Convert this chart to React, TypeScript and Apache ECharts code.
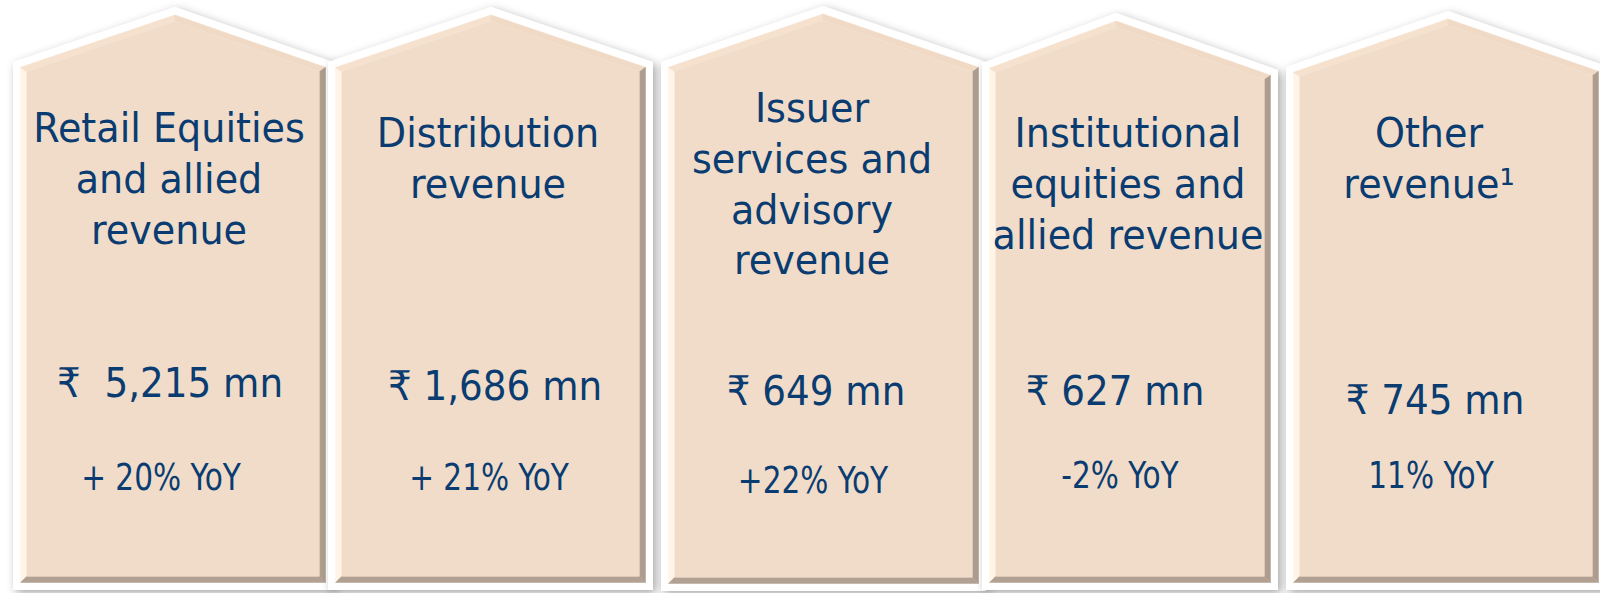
import React, { useEffect, useRef } from 'react';
import * as echarts from 'echarts';

// ---- data ----
const titleLines: string[][] = [
  ['Retail Equities', 'and allied', 'revenue'],
  ['Distribution', 'revenue'],
  ['Issuer', 'services and', 'advisory', 'revenue'],
  ['Institutional', 'equities and', 'allied revenue'],
  ['Other', 'revenue¹'],
];
const revenueLabels = ['₹  5,215 mn', '₹ 1,686 mn', '₹ 649 mn', '₹ 627 mn', '₹ 745 mn'];
const yoyLabels = ['+ 20% YoY', '+ 21% YoY', '+22% YoY', '-2% YoY', '11% YoY'];

// ---- layout (positions only) ----
const panelShapes = [
  { l: 13, r: 333, sl: 62, sr: 62, px: 175, pt: 7, b: 590 },
  { l: 328, r: 653, sl: 62, sr: 62, px: 491, pt: 7, b: 590 },
  { l: 661, r: 986, sl: 62, sr: 62, px: 823, pt: 6, b: 591 },
  { l: 982, r: 1278, sl: 63, sr: 70, px: 1116, pt: 13, b: 590 },
  { l: 1286, r: 1606, sl: 67, sr: 66, px: 1448, pt: 11, b: 590 },
];
const textLayout = [
  { tx: 169, ty: [128, 179, 230], vx: 170, vy: 383, yx: 161, yy: 477 },
  { tx: 488, ty: [133, 184], vx: 495, vy: 386, yx: 489, yy: 477 },
  { tx: 812, ty: [108, 159, 210, 260], vx: 816, vy: 391, yx: 813, yy: 480 },
  { tx: 1128, ty: [133, 184, 235], vx: 1115, vy: 391, yx: 1120, yy: 475 },
  { tx: 1429, ty: [133, 184], vx: 1435, vy: 400, yx: 1431, yy: 475 },
];

const TEXT_COLOR = '#0A3C71';
const FACE = '#F1DCC9';
const FONT = '"DejaVu Sans", Verdana, sans-serif';
const bevelColors = ['#FFF4E6', '#F5E1CD', '#F0DAC5', '#AE9C8E', '#B2A092'];

type Pt = [number, number];

function inset(pts: Pt[], d: number): Pt[] {
  const n = pts.length;
  const lines = pts.map((p, i) => {
    const q = pts[(i + 1) % n];
    const dx = q[0] - p[0];
    const dy = q[1] - p[1];
    const len = Math.hypot(dx, dy);
    const nx = -dy / len;
    const ny = dx / len;
    return { p: [p[0] + nx * d, p[1] + ny * d] as Pt, d: [dx, dy] as Pt };
  });
  const out: Pt[] = [];
  for (let i = 0; i < n; i++) {
    const a = lines[(i - 1 + n) % n];
    const b = lines[i];
    const cross = a.d[0] * b.d[1] - a.d[1] * b.d[0];
    const wx = b.p[0] - a.p[0];
    const wy = b.p[1] - a.p[1];
    const t = (wx * b.d[1] - wy * b.d[0]) / cross;
    out.push([a.p[0] + t * a.d[0], a.p[1] + t * a.d[1]]);
  }
  return out;
}

function textEl(x: number, y: number, sx: number, text: string, size: number) {
  return {
    type: 'text',
    x,
    y,
    scaleX: sx,
    style: {
      text,
      x: 0,
      y: 0,
      fill: TEXT_COLOR,
      font: `${size}px ${FONT}`,
      textAlign: 'center',
      textVerticalAlign: 'middle',
    },
  };
}

function buildElements() {
  const els: any[] = [];
  panelShapes.forEach((s, i) => {
    const outer: Pt[] = [
      [s.l, s.b],
      [s.l, s.sl],
      [s.px, s.pt],
      [s.r, s.sr],
      [s.r, s.b],
    ];
    const inner = inset(outer, 7.5);
    const face = inset(inner, 6);
    const children: any[] = [];
    children.push({
      type: 'polygon',
      shape: { points: outer },
      style: {
        fill: '#ffffff',
        shadowBlur: 10,
        shadowColor: 'rgba(0,0,0,0.35)',
        shadowOffsetX: 3,
        shadowOffsetY: 3,
      },
    });
    for (let k = 0; k < 5; k++) {
      const k2 = (k + 1) % 5;
      children.push({
        type: 'polygon',
        shape: { points: [inner[k], inner[k2], face[k2], face[k]] },
        style: { fill: bevelColors[k], stroke: bevelColors[k], lineWidth: 0.5 },
      });
    }
    children.push({
      type: 'polygon',
      shape: { points: face },
      style: { fill: FACE },
    });
    const tl = textLayout[i];
    titleLines[i].forEach((line, j) => {
      children.push(textEl(tl.tx, tl.ty[j], 0.93, line, 41));
    });
    children.push(textEl(tl.vx, tl.vy, 0.91, revenueLabels[i], 41));
    children.push(textEl(tl.yx, tl.yy, 0.8, yoyLabels[i], 37));
    els.push({ type: 'group', children });
  });
  return els;
}

export default function App() {
  const ref = useRef<HTMLDivElement>(null);
  useEffect(() => {
    document.body.style.margin = '0';
    const chart = echarts.init(ref.current!, undefined, { renderer: 'svg' });
    chart.setOption({
      animation: false,
      backgroundColor: '#ffffff',
      graphic: { elements: buildElements() },
    });
    return () => chart.dispose();
  }, []);
  return (
    <div
      ref={ref}
      style={{ position: 'fixed', left: 0, top: 0, width: 1600, height: 593 }}
    />
  );
}
